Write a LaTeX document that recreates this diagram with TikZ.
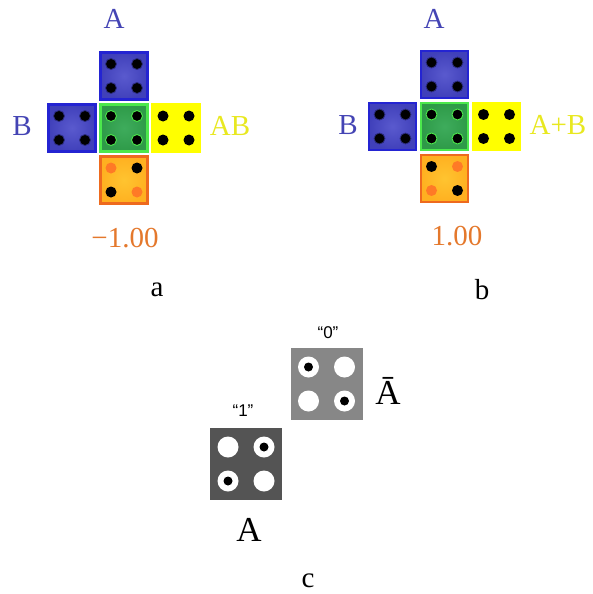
\documentclass[tikz,border=0pt]{standalone}
\usepackage{fontspec}
\setmainfont{Liberation Serif}
\newfontfamily\quotefont{Liberation Sans}
\usetikzlibrary{positioning}
\definecolor{faceblue}{HTML}{5A5ACE}
\definecolor{rimblue}{HTML}{4040BA}
\definecolor{edgeblue}{HTML}{2424D2}
\definecolor{facegreen}{HTML}{3EAC5C}
\definecolor{rimgreen}{HTML}{2E9A48}
\definecolor{edgegreen}{HTML}{4CE84C}
\definecolor{faceyellow}{HTML}{FFFF00}
\definecolor{faceorange}{HTML}{FFC430}
\definecolor{rimorange}{HTML}{FFB020}
\definecolor{edgeorange}{HTML}{EE6A1E}
\definecolor{piporange}{HTML}{FF7A26}
\definecolor{textblue}{HTML}{4444B4}
\definecolor{textyellow}{HTML}{E8E820}
\definecolor{textorange}{HTML}{E4782C}
\tikzset{
    face/.style={draw, line width=2.5pt, minimum size=47pt, inner sep=0pt},
    blueface/.style={face, draw=edgeblue, inner color=faceblue, outer color=rimblue},
    greenface/.style={face, draw=edgegreen, inner color=facegreen, outer color=rimgreen},
    yellowface/.style={face, draw=faceyellow, fill=faceyellow},
    orangeface/.style={face, draw=edgeorange, inner color=faceorange, outer color=rimorange},
    pip/.style={fill=black},
    bluepip/.style={draw=rimblue!70!black, fill=black, line width=0.8pt},
    greenpip/.style={draw=edgegreen, fill=black, line width=0.9pt},
    lbl/.style={inner sep=0pt, font=\fontsize{29}{31}\selectfont},
    quote/.style={inner sep=0pt, font=\quotefont\fontsize{17}{19}\selectfont},
    bigA/.style={inner sep=0pt, font=\fontsize{35}{38}\selectfont},
    cell/.style={minimum size=72pt, inner sep=0pt}
}
\begin{document}
\begin{tikzpicture}[x=1pt, y=-1pt]
    \useasboundingbox (0,0) rectangle (593,594);
    % panel a
    \begin{scope}[shift={(124, 128)}]
        \node[blueface] (aTop) at (0, -52) {};
        \node[blueface] (aLeft) at (-52, 0) {};
        \node[greenface] (aMid) at (0, 0) {};
        \node[yellowface] (aRight) at (52, 0) {};
        \node[orangeface] (aBot) at (0, 52) {};
        \foreach \cx/\cy in {0/-52, -52/0}
            \foreach \dx in {-13, 13}
                \foreach \dy in {-12, 12}
                    \filldraw[bluepip] (\cx+\dx, \cy+\dy) circle (5.5);
        \foreach \dx in {-13, 13}
            \foreach \dy in {-12, 12} {
                \fill[pip] (52+\dx, \dy) circle (5.5);
                \filldraw[greenpip] (\dx, \dy) circle (5.5);
            }
        \fill[piporange] (-13, 40) circle (5.5);
        \fill[pip] (13, 40) circle (5.5);
        \fill[pip] (-13, 64) circle (5.5);
        \fill[piporange] (13, 64) circle (5.5);
    \end{scope}
    \node[lbl, text=textblue] (aA) at (114, 19) {A};
    \node[lbl, text=textblue] (aB) at (22, 126) {B};
    \node[lbl, text=textyellow] (aAB) at (230, 126) {AB};
    \node[lbl, text=textorange] (aVal) at (125, 238) {−1.00};
    \node[lbl] (aCap) at (157, 290) {a};
    % panel b
    \begin{scope}[shift={(444.5, 126.5)}]
        \node[blueface] (bTop) at (0, -52) {};
        \node[blueface] (bLeft) at (-52, 0) {};
        \node[greenface] (bMid) at (0, 0) {};
        \node[yellowface] (bRight) at (52, 0) {};
        \node[orangeface] (bBot) at (0, 52) {};
        \foreach \cx/\cy in {0/-52, -52/0}
            \foreach \dx in {-13, 13}
                \foreach \dy in {-12, 12}
                    \filldraw[bluepip] (\cx+\dx, \cy+\dy) circle (5.5);
        \foreach \dx in {-13, 13}
            \foreach \dy in {-12, 12} {
                \fill[pip] (52+\dx, \dy) circle (5.5);
                \filldraw[greenpip] (\dx, \dy) circle (5.5);
            }
        \fill[pip] (-13, 40) circle (5.5);
        \fill[piporange] (13, 40) circle (5.5);
        \fill[piporange] (-13, 64) circle (5.5);
        \fill[pip] (13, 64) circle (5.5);
    \end{scope}
    \node[lbl, text=textblue] (bA) at (434, 19) {A};
    \node[lbl, text=textblue] (bB) at (348, 125) {B};
    \node[lbl, text=textyellow] (bAB) at (558, 125) {A+B};
    \node[lbl, text=textorange] (bVal) at (457, 236) {1.00};
    \node[lbl] (bCap) at (482, 290) {b};
    % panel c
    \node[cell, fill=black!47] (cZero) at (326.5, 384) {};
    \node[cell, fill=black!67] (cOne) at (246, 464) {};
    \foreach \cx/\cy in {326.5/384, 246/464}
        \foreach \dx in {-18, 18}
            \foreach \dy in {-17, 17}
                \fill[white] (\cx+\dx, \cy+\dy) circle (10.5);
    \foreach \px/\py in {308.5/367, 344.5/401, 264/447, 228/481}
        \fill[pip] (\px, \py) circle (4.5);
    \node[quote] (cZeroTxt) at (328, 333) {“0”};
    \node[quote] (cOneTxt) at (243, 411) {“1”};
    \node[bigA] (cNotA) at (388, 391) {Ā};
    \node[bigA] (cA) at (249, 530) {A};
    \node[lbl] (cCap) at (308, 581) {c};
\end{tikzpicture}
\end{document}
